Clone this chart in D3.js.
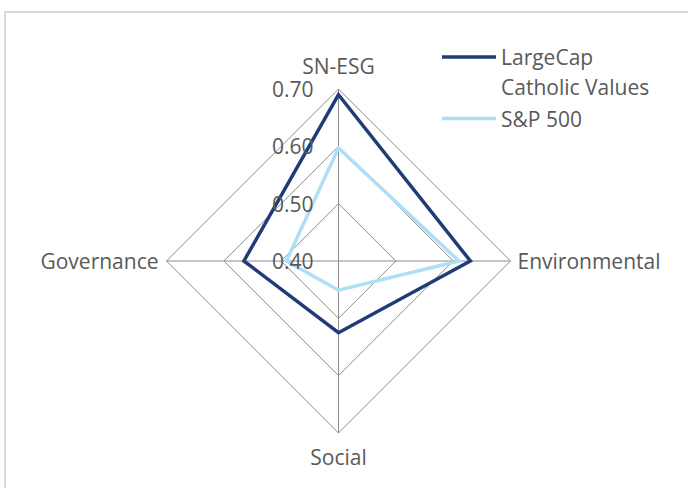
<!DOCTYPE html>
<html>
<head>
<meta charset="utf-8">
<script src="https://cdn.jsdelivr.net/npm/d3@7"></script>
<style>
  html, body { margin: 0; padding: 0; background: #fff; }
  svg { display: block; }
  text { font-family: "Open Sans", "Liberation Sans", sans-serif; fill: #595959; }
</style>
</head>
<body>
<svg id="chart" width="688" height="488"></svg>
<script>
const categories = ["SN-ESG", "Environmental", "Social", "Governance"];
const seriesNames = ["LargeCap Catholic Values", "S&P 500"];
const largeCapValues = [0.69, 0.63, 0.525, 0.565];
const sp500Values = [0.597, 0.61, 0.451, 0.491];
const tickValues = [0.40, 0.50, 0.60, 0.70];
const tickLabels = ["0.40", "0.50", "0.60", "0.70"];
const seriesColors = ["#1f3c78", "#addff7"];

const svg = d3.select("#chart");
const W = 688, H = 488;
const cx = 338.5, cy = 261;
const FS = 21;

svg.append("rect").attr("x", 0).attr("y", 0).attr("width", W).attr("height", H).attr("fill", "#fff");
svg.append("rect").attr("x", 5).attr("y", 12).attr("width", 720).attr("height", 520)
  .attr("fill", "none").attr("stroke", "#d9d9d9").attr("stroke-width", 2);

const r = d3.scaleLinear().domain([0.40, 0.70]).range([0, 172]);
const angle = d3.scalePoint().domain(categories).range([0, 2 * Math.PI * (categories.length - 1) / categories.length]);

const g = svg.append("g").attr("transform", `translate(${cx},${cy})`);

// grid rings
const ringLine = d3.lineRadial().curve(d3.curveLinearClosed);
tickValues.forEach(t => {
  if (r(t) <= 0) return;
  g.append("path")
    .attr("d", ringLine(categories.map(c => [angle(c), r(t)])))
    .attr("fill", "none").attr("stroke", "#8c8c8c").attr("stroke-width", 1);
});
// spokes
categories.forEach(c => {
  const a = angle(c);
  g.append("line")
    .attr("x1", 0).attr("y1", 0)
    .attr("x2", r(0.70) * Math.sin(a)).attr("y2", -r(0.70) * Math.cos(a))
    .attr("stroke", "#8c8c8c").attr("stroke-width", 1);
});

// series
const seriesLine = d3.lineRadial()
  .angle((d, i) => angle(categories[i]))
  .radius(d => r(d))
  .curve(d3.curveLinearClosed);
[sp500Values, largeCapValues].forEach((vals, k) => {
  const idx = k === 0 ? 1 : 0;
  g.append("path")
    .attr("d", seriesLine(vals))
    .attr("fill", "none")
    .attr("stroke", seriesColors[idx])
    .attr("stroke-width", 3.5)
    .attr("stroke-linejoin", "miter");
});

// tick labels
tickValues.forEach((t, i) => {
  g.append("text")
    .attr("x", -25).attr("y", -r(t))
    .attr("text-anchor", "end").attr("dominant-baseline", "central")
    .attr("font-size", FS)
    .text(tickLabels[i]);
});

// category labels
const labelPos = {
  "SN-ESG": { x: 0, y: -r(0.70) - 23, anchor: "middle" },
  "Environmental": { x: r(0.70) + 7, y: 0, anchor: "start" },
  "Social": { x: 0, y: r(0.70) + 24, anchor: "middle" },
  "Governance": { x: -r(0.70) - 8, y: 0, anchor: "end" }
};
categories.forEach(c => {
  const p = labelPos[c];
  g.append("text")
    .attr("x", p.x).attr("y", p.y)
    .attr("text-anchor", p.anchor).attr("dominant-baseline", "central")
    .attr("font-size", FS)
    .text(c);
});

// legend
const legend = svg.append("g");
const legendRows = [
  { lines: ["LargeCap", "Catholic Values"], y: 57, color: seriesColors[0] },
  { lines: ["S&P 500"], y: 118.5, color: seriesColors[1] }
];
legendRows.forEach(row => {
  legend.append("line")
    .attr("x1", 442).attr("x2", 496).attr("y1", row.y).attr("y2", row.y)
    .attr("stroke", row.color).attr("stroke-width", 3.5);
  row.lines.forEach((ln, j) => {
    legend.append("text")
      .attr("x", 501).attr("y", row.y + j * 30)
      .attr("dominant-baseline", "central")
      .attr("font-size", FS)
      .text(ln);
  });
});
</script>
</body>
</html>
